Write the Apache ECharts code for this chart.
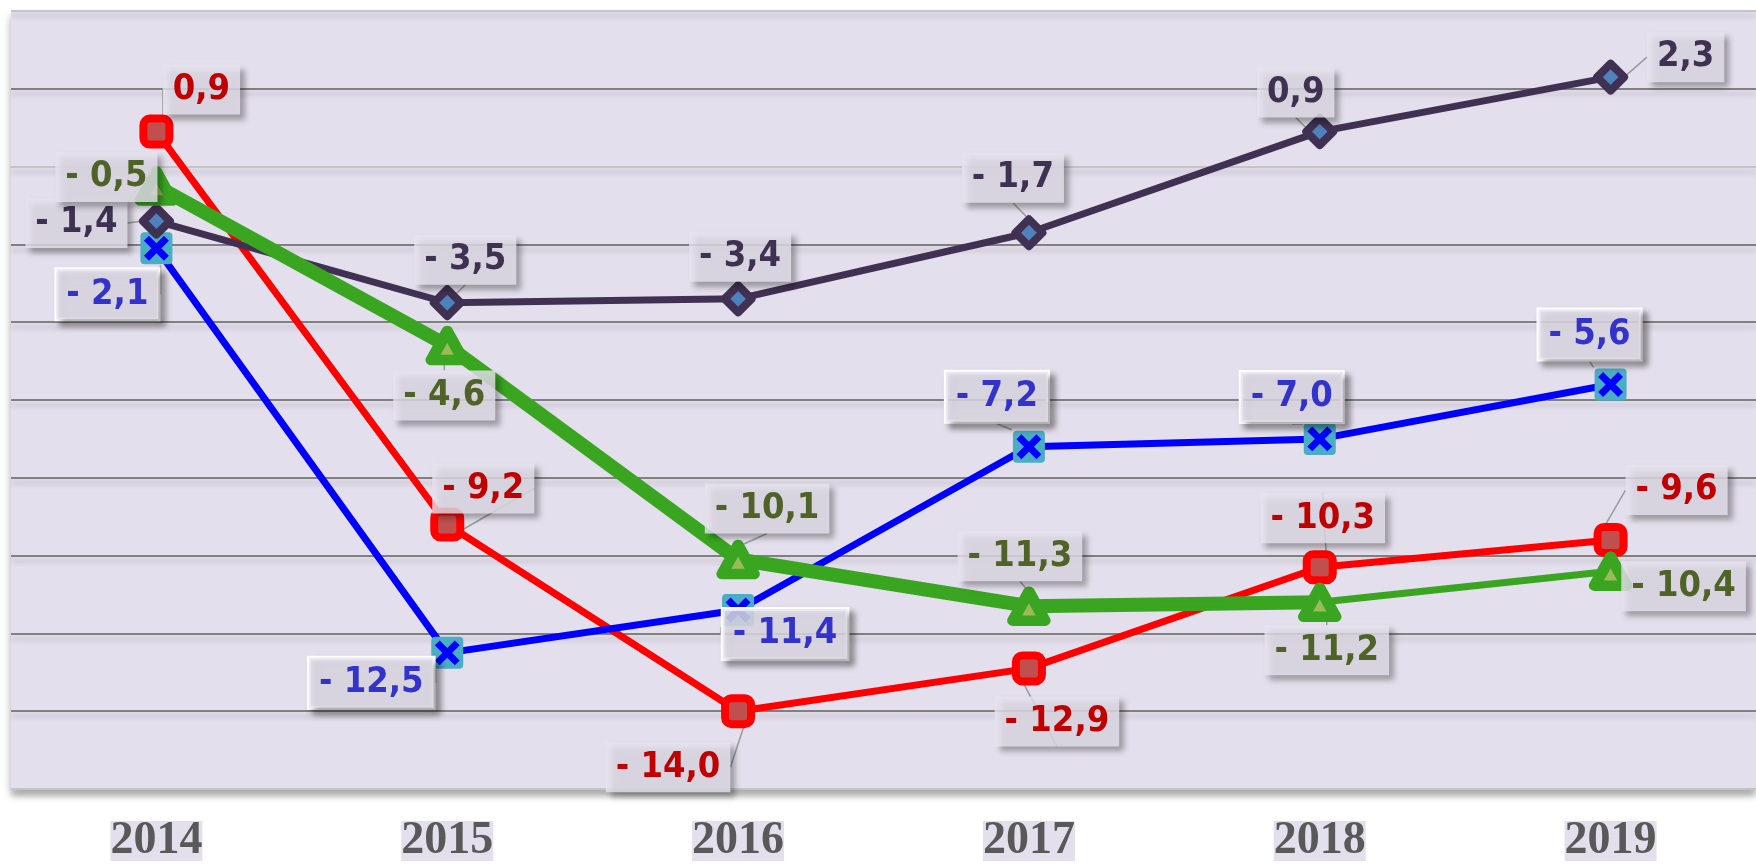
<!DOCTYPE html>
<html>
<head>
<meta charset="utf-8">
<title>chart</title>
<script src="https://cdn.jsdelivr.net/npm/echarts@6/dist/echarts.min.js"></script>
<style>
  html, body { margin: 0; padding: 0; background: #fff; }
  #chart { width: 1756px; height: 864px; }
</style>
</head>
<body>
<div id="chart"></div>
<script>
// data
const years = ['2014', '2015', '2016', '2017', '2018', '2019']
const purpleValues = [-1.4, -3.5, -3.4, -1.7, 0.9, 2.3]
const redValues = [0.9, -9.2, -14.0, -12.9, -10.3, -9.6]
const blueValues = [-2.1, -12.5, -11.4, -7.2, -7.0, -5.6]
const greenValues = [-0.5, -4.6, -10.1, -11.3, -11.2, -10.4]

// label offsets (px, text centre relative to point)
const purpleOffsets = [[-80, 2], [18, -43], [2, -42], [-16, -55], [-24, -39], [75, -20]]
const redOffsets = [[45, -42], [36, -36], [-70, 56], [28, 53], [3, -49], [66, -50]]
const blueOffsets = [[-49, 46], [-76, 30], [47, 24], [-32, -50], [-28, -42], [-21, -50]]
const greenOffsets = [[-50, -9], [-3, 50], [29, -51], [-9, -50], [7, 48], [73, 15]]

const chart = echarts.init(document.getElementById('chart'))

function fmt(v) {
  const s = Math.abs(v).toFixed(1).replace('.', ',')
  return v < 0 ? '- ' + s : s
}

function makeLabel(color, border) {
  return {
    show: true,
    position: 'inside',
    formatter: p => fmt(p.value),
    color: color,
    fontSize: 36,
    fontWeight: 'bold',
    fontFamily: '"Liberation Sans Narrow", "Arial Narrow", "DejaVu Sans Condensed", sans-serif',
    backgroundColor: 'rgba(231,227,239,0.8)',
    borderColor: border ? '#ffffff' : 'transparent',
    borderWidth: border ? 2 : 0,
    padding: [8, 10, 6, 10],
    shadowColor: 'rgba(0,0,0,0.4)',
    shadowBlur: 6,
    shadowOffsetX: 5,
    shadowOffsetY: 5
  }
}

const labelLine = {
  show: true,
  lineStyle: { color: '#9a9a9a', width: 1.5 }
}

function layoutFrom(offs) {
  return p => ({ dx: offs[p.dataIndex][0], dy: offs[p.dataIndex][1] })
}

const xSvg = '<svg xmlns="http://www.w3.org/2000/svg" width="34" height="34" viewBox="0 0 34 34">' +
  '<rect x="1" y="1" width="32" height="32" rx="4" ry="4" fill="#4bacc6"/>' +
  '<path d="M7 7 L27 27 M27 7 L7 27" stroke="#0000ff" stroke-width="7"/></svg>'
const xSymbol = 'image://data:image/svg+xml;charset=utf-8,' + encodeURIComponent(xSvg)

// thick part of the green line (2014-2018)
const greenThick = greenValues.map((v, i) => (i <= 4 ? v : null))

let option = {
  animation: false,
  grid: {
    show: true,
    left: 11,
    right: -6,
    top: 11,
    bottom: 71,
    backgroundColor: '#e4dfec',
    borderWidth: 0,
    shadowColor: 'rgba(0,0,0,0.35)',
    shadowBlur: 8,
    shadowOffsetY: 6
  },
  xAxis: {
    type: 'category',
    data: years,
    boundaryGap: true,
    axisTick: { show: false },
    axisLine: { show: true, lineStyle: { color: '#c4c4c4', width: 2 } },
    axisLabel: {
      margin: 32,
      color: '#595959',
      fontSize: 46,
      fontWeight: 'bold',
      fontFamily: '"Liberation Serif", "Times New Roman", serif',
      backgroundColor: '#e4dfec',
      lineHeight: 40,
      padding: [0, 0]
    },
    splitLine: { show: false }
  },
  yAxis: {
    type: 'value',
    min: -16,
    max: 4,
    interval: 2,
    axisLabel: { show: false },
    axisLine: { show: false },
    axisTick: { show: false },
    splitLine: {
      show: true,
      lineStyle: {
        color: ['#c4c4c4', '#808080', '#808080', '#808080', '#808080', '#808080',
          '#808080', '#808080', '#d6d2dc', '#808080', '#c4c4c4'],
        width: 2,
        shadowColor: 'rgba(0,0,0,0.18)',
        shadowBlur: 5,
        shadowOffsetY: 5
      }
    }
  },
  series: [
    {
      name: 'red',
      type: 'line',
      data: redValues,
      symbol: 'roundRect',
      symbolSize: 26,
      itemStyle: { color: '#c0504d', borderColor: '#ff0000', borderWidth: 8 },
      lineStyle: { color: '#ff0000', width: 7 },
      label: makeLabel('#c00000', false),
      labelLine: labelLine,
      labelLayout: layoutFrom(redOffsets)
    },
    {
      name: 'blue',
      type: 'line',
      data: blueValues,
      symbol: xSymbol,
      symbolSize: 34,
      itemStyle: { color: '#0000ff' },
      lineStyle: { color: '#0000ff', width: 7 },
      label: makeLabel('#3333cc', true),
      labelLine: labelLine,
      labelLayout: layoutFrom(blueOffsets)
    },
    {
      name: 'purple',
      type: 'line',
      data: purpleValues,
      symbol: 'diamond',
      symbolSize: 27,
      itemStyle: { color: '#4f81bd', borderColor: '#403152', borderWidth: 8, borderJoin: 'round' },
      lineStyle: { color: '#403152', width: 7 },
      label: makeLabel('#3f3151', false),
      labelLine: labelLine,
      labelLayout: layoutFrom(purpleOffsets)
    },
    {
      name: 'greenThick',
      type: 'line',
      data: greenThick,
      symbol: 'none',
      lineStyle: { color: '#3aa520', width: 14 },
      silent: true
    },
    {
      name: 'green',
      type: 'line',
      data: greenValues,
      symbol: 'triangle',
      symbolSize: [32, 29],
      itemStyle: { color: '#9bbb59', borderColor: '#3aa520', borderWidth: 11, borderJoin: 'round' },
      lineStyle: { color: '#3aa520', width: 7 },
      label: makeLabel('#4f6228', false),
      labelLine: labelLine,
      labelLayout: layoutFrom(greenOffsets)
    }
  ]
}

chart.setOption(option)
window.onresize = chart.resize
</script>
</body>
</html>
